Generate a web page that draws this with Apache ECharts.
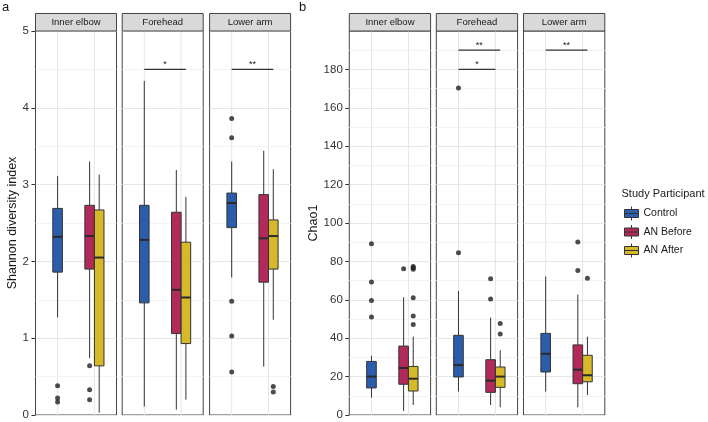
<!DOCTYPE html>
<html><head><meta charset="utf-8">
<script src="https://cdn.jsdelivr.net/npm/echarts@6/dist/echarts.min.js"></script>
<style>html,body{margin:0;padding:0;background:#fff}#c{width:708px;height:422px}</style>
</head><body><div id="c"></div>
<script>
const facets = ['Inner elbow', 'Forehead', 'Lower arm'];
const groups = ['Control', 'AN Before', 'AN After'];
const groupColors = ['#2b5daa', '#b22a5c', '#d5b929'];
// box stats per group: [lower whisker, Q1, median, Q3, upper whisker]
const shannonInnerElbow = [[1.27,1.86,2.32,2.69,3.11],[0.74,1.90,2.33,2.73,3.30],[0.03,0.64,2.05,2.67,3.13]];
const shannonForehead   = [[0.11,1.46,2.28,2.73,4.35],[0.07,1.06,1.63,2.64,3.19],[0.20,0.93,1.53,2.25,2.84]];
const shannonLowerArm   = [[1.79,2.44,2.76,2.89,3.30],[0.63,1.73,2.30,2.87,3.44],[1.24,1.90,2.33,2.54,3.20]];
const shannonOutInnerElbow = [[0.38,0.22,0.17],[0.64,0.33,0.20],[]];
const shannonOutForehead   = [[],[],[]];
const shannonOutLowerArm   = [[3.86,3.61,1.48,1.03,0.56],[],[0.37,0.30]];
const chao1InnerElbow = [[9.0,14.1,20.0,27.9,30.9],[2.1,16.0,24.5,35.9,61.3],[5.2,12.5,18.9,25.3,40.8]];
const chao1Forehead   = [[12.2,19.8,26.0,41.5,64.6],[5.2,11.8,17.9,28.8,50.7],[4.0,14.4,20.0,25.0,33.7]];
const chao1LowerArm   = [[12.2,22.4,31.9,42.5,72.2],[4.0,16.3,23.6,36.5,62.7],[10.4,17.3,20.7,31.1,40.8]];
const chao1OutInnerElbow = [[89.2,69.3,59.7,51.0],[76.2],[77.4,76.7,75.9,61.1,51.6,47.2]];
const chao1OutForehead   = [[170.3,84.5],[71.0,60.4],[47.7,42.2]];
const chao1OutLowerArm   = [[],[90.1,75.2],[71.2]];
// significance comparisons: [facet, from, to, y, label]
const shannonSig = [['Forehead','Control','AN After',4.5,'*'],['Lower arm','Control','AN After',4.5,'**']];
const chao1Sig = [['Forehead','Control','AN After',190,'**'],['Forehead','Control','AN',180,'*'],['Lower arm','Control','AN After',190,'**']];
const shannonTicks = [0, 1, 2, 3, 4, 5];
const chao1Ticks = [0, 20, 40, 60, 80, 100, 120, 140, 160, 180];
const shannonAxis = {min:0, max:5, interval:1, ticks:shannonTicks, title:'Shannon diversity index'};
const chao1Axis = {min:0, max:200, interval:20, ticks:chao1Ticks, title:'Chao1'};

const FONT = '"Liberation Sans", Arial, sans-serif';
const panels = [
  {axis: shannonAxis, boxes:[shannonInnerElbow, shannonForehead, shannonLowerArm],
   outs:[shannonOutInnerElbow, shannonOutForehead, shannonOutLowerArm], sig: shannonSig,
   lefts:[35.5, 122.2, 209.6], width:81, nameGap:15, tag:'a', tagX:2},
  {axis: chao1Axis, boxes:[chao1InnerElbow, chao1Forehead, chao1LowerArm],
   outs:[chao1OutInnerElbow, chao1OutForehead, chao1OutLowerArm], sig: chao1Sig,
   lefts:[349.3, 436.3, 523.5], width:81.3, nameGap:26, tag:'b', tagX:299}
];
const TOP = 31, HEIGHT = 384, STRIP_TOP = 13.5;
const DODGE = 0.13;
function xpos(g){
  if (g === 'Control') return 1;
  if (g === 'AN') return 2;
  if (g === 'AN Before') return 2 - DODGE;
  return 2 + DODGE;
}

const grids = [], xAxes = [], yAxes = [], series = [], graphics = [];
panels.forEach((P, pi) => {
  graphics.push({type:'text', left:P.tagX, top:1, style:{text:P.tag, font:'13px '+FONT, fill:'#1a1a1a'}});
  facets.forEach((facet, fi) => {
    const gi = pi*3 + fi;
    grids.push({left:P.lefts[fi], top:TOP, width:P.width, height:HEIGHT, show:true,
      borderColor:'#444', borderWidth:1, backgroundColor:'transparent', containLabel:false});
    xAxes.push({type:'value', gridIndex:gi, min:0.4, max:2.6, show:false});
    const first = fi === 0;
    yAxes.push({type:'value', gridIndex:gi, min:P.axis.min, max:P.axis.max, interval:P.axis.interval,
      name: first ? P.axis.title : '', nameLocation:'middle', nameGap:P.nameGap,
      nameTextStyle:{fontFamily:FONT, fontSize:12.5, color:'#1a1a1a'},
      axisLine:{show:false},
      axisTick:{show:first, length:4, lineStyle:{color:'#333'}, customValues:P.axis.ticks},
      axisLabel:{show:first, margin:6.5, fontFamily:FONT, fontSize:11.5, color:'#333', customValues:P.axis.ticks},
      splitLine:{show:true, lineStyle:{color:'#e6e6e6', width:1}},
      minorTick:{show:false, splitNumber:2},
      minorSplitLine:{show:true, lineStyle:{color:'#f3f3f3', width:1}}
    });
    // strip
    graphics.push({type:'rect', shape:{x:P.lefts[fi], y:STRIP_TOP, width:P.width, height:TOP-STRIP_TOP},
      style:{fill:'#d9d9d9', stroke:'#444', lineWidth:1}, z:10});
    graphics.push({type:'text', x:P.lefts[fi]+P.width/2, y:(STRIP_TOP+TOP)/2,
      style:{text:facet, font:'9.5px '+FONT, fill:'#1a1a1a', align:'center', verticalAlign:'middle'}, z:11});
    // vertical gridlines at category positions
    const ymin = P.axis.min, ymax = P.axis.max;
    series.push({type:'custom', xAxisIndex:gi, yAxisIndex:gi, silent:true, z:1,
      data:[[1],[2]],
      renderItem:(params, api) => {
        const a = api.coord([api.value(0), ymin]), b = api.coord([api.value(0), ymax]);
        return {type:'line', shape:{x1:a[0], y1:a[1], x2:b[0], y2:b[1]}, style:{stroke:'#e6e6e6', lineWidth:1}};
      }});
    // boxes
    groups.forEach((g, gidx) => {
      const s = P.boxes[fi][gidx];
      const col = groupColors[gidx];
      series.push({type:'custom', name:g, xAxisIndex:gi, yAxisIndex:gi, z:3,
        itemStyle:{color:col, borderColor:'#333', borderWidth:1},
        encode:{x:0, y:[1,2,3,4,5]},
        data:[[xpos(g), s[0], s[1], s[2], s[3], s[4]]],
        renderItem:(params, api) => {
          const x = api.value(0);
          const hw = 0.13;
          const top = api.coord([x, api.value(5)]);
          const q3 = api.coord([x, api.value(4)]);
          const med = api.coord([x, api.value(3)]);
          const q1 = api.coord([x, api.value(2)]);
          const bot = api.coord([x, api.value(1)]);
          const xl = api.coord([x-hw, 0])[0], xr = api.coord([x+hw, 0])[0];
          return {type:'group', children:[
            {type:'line', shape:{x1:top[0], y1:top[1], x2:q3[0], y2:q3[1]}, style:{stroke:'#333', lineWidth:1}},
            {type:'line', shape:{x1:q1[0], y1:q1[1], x2:bot[0], y2:bot[1]}, style:{stroke:'#333', lineWidth:1}},
            {type:'rect', shape:{x:xl, y:q3[1], width:xr-xl, height:q1[1]-q3[1]}, style:{fill:col, stroke:'#333', lineWidth:1}},
            {type:'line', shape:{x1:xl, y1:med[1], x2:xr, y2:med[1]}, style:{stroke:'#2a2a2a', lineWidth:2}}
          ]};
        }});
    });
    // outliers
    const pts = [];
    groups.forEach((g, gidx) => P.outs[fi][gidx].forEach(v => pts.push([xpos(g), v])));
    series.push({type:'scatter', name:'outliers', xAxisIndex:gi, yAxisIndex:gi, z:4, silent:true,
      symbolSize:5, itemStyle:{color:'#1f1f1f'}, data:pts});
    // significance bars
    const sigs = P.sig.filter(s => s[0] === facet);
    if (sigs.length) {
      series.push({type:'custom', xAxisIndex:gi, yAxisIndex:gi, z:5, silent:true,
        data: sigs.map(s => [xpos(s[1]), xpos(s[2]), s[3]]),
        renderItem:(params, api) => {
          const a = api.coord([api.value(0), api.value(2)]);
          const b = api.coord([api.value(1), api.value(2)]);
          return {type:'group', children:[
            {type:'line', shape:{x1:a[0], y1:a[1], x2:b[0], y2:b[1]}, style:{stroke:'#333', lineWidth:1.2}},
            {type:'text', x:(a[0]+b[0])/2, y:a[1]-5,
              style:{text:sigs[params.dataIndex][4], font:'9px '+FONT, fill:'#1a1a1a', align:'center', verticalAlign:'middle'}}
          ]};
        }});
    }
  });
});

graphics.push({type:'text', left:621.5, top:188.5, style:{text:'Study Participant', font:'11px '+FONT, fill:'#1a1a1a'}});

const keyPath = 'path://M0,3L14,3L14,11L0,11Z M0,7L14,7 M7,0L7,3 M7,11L7,14';
const chart = echarts.init(document.getElementById('c'), null, {renderer:'canvas'});
chart.setOption({
  animation:false,
  backgroundColor:'#fff',
  grid:grids, xAxis:xAxes, yAxis:yAxes, series:series, graphic:graphics,
  legend:{orient:'vertical', left:624, top:206, padding:0, itemWidth:14, itemHeight:14, itemGap:3.5,
    selectedMode:false,
    data: groups.map(g => ({name:g, icon:keyPath})),
    itemStyle:{borderColor:'#333', borderWidth:1},
    textStyle:{fontFamily:FONT, fontSize:10.5, color:'#1a1a1a'}}
});
</script></body></html>
